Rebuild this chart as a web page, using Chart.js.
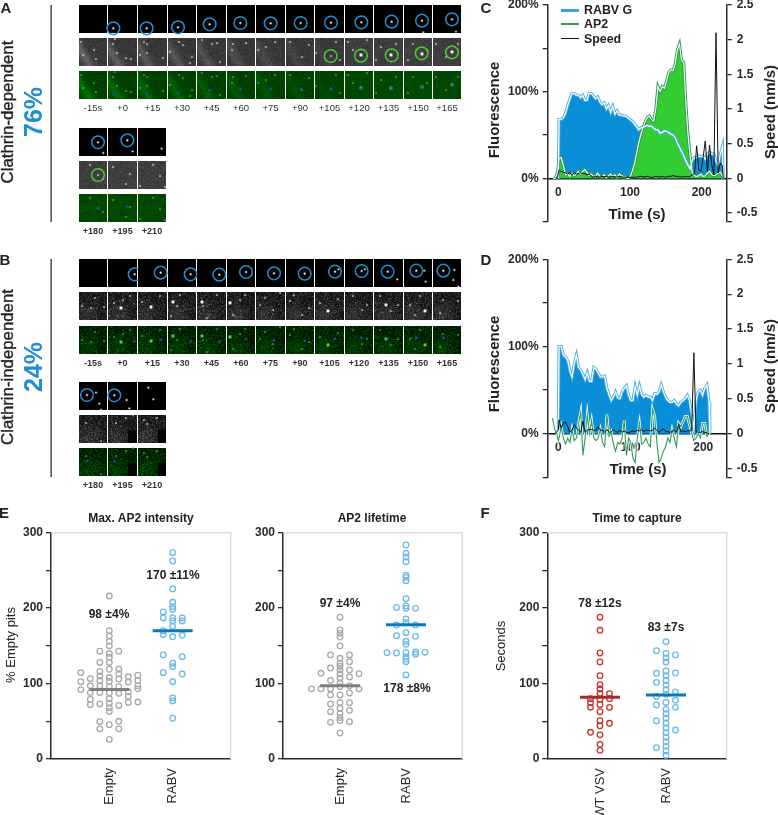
<!DOCTYPE html>
<html lang="en">
<head>
<meta charset="UTF-8" />
<title>RABV entry pathways</title>
<script src="https://cdn.jsdelivr.net/npm/chart.js"></script>
<style>
  html, body { margin: 0; padding: 0; background: #fff; overflow: hidden; }
  #page { position: relative; width: 778px; height: 815px; overflow: hidden; font-family: "Liberation Sans", Arial, sans-serif; color: #222; }
  #page canvas { position: absolute; }
  .t { position: absolute; transform: translate(-50%, -50%); white-space: nowrap; line-height: 1; }
  .key { position: absolute; left: 561px; width: 18px; }
</style>
</head>
<body>
<div id="page">
  <canvas id="micro" width="470" height="500" style="left:0;top:0"></canvas>
  <canvas id="chartC" width="308" height="250" style="left:470px;top:-10px"></canvas>
  <canvas id="chartD" width="308" height="250" style="left:470px;top:240px"></canvas>
  <canvas id="chartE1" width="245" height="320" style="left:0;top:510px"></canvas>
  <canvas id="chartE2" width="245" height="320" style="left:240px;top:510px"></canvas>
  <canvas id="chartF" width="298" height="320" style="left:480px;top:510px"></canvas>
  <div class="key" style="top:9px;height:3px;background:#3aa3d8"></div>
  <div class="key" style="top:23px;height:2px;background:#2e9b55"></div>
  <div class="key" style="top:38px;height:1px;background:#111"></div>
</div>

<script>
// ------------------ panel C ------------------
const timeC = [-7,-4,-1,0,
  1,4,7,10,13,16,19,22,25,28,
  31,34,37,40,43,46,49,52,55,58,
  61,64,67,70,73,76,79,82,85,88,
  91,94,97,100,103,106,109,112,115,118,
  121,124,127,130,133,136,139,142,145,148,
  151,154,157,160,163,166,169,172,175,178,
  181,184,187,190,193,196,199,202,205,208,
  211,214,217,220,223,226,229,230];
const rabvC = [null,null,null,0,
  68,68,70,75,84,91,98,98,96,96,
  93,96,90,90,98,98,95,92,94,88,
  85,87,80,84,76,83,74,78,73,73,
  72,72,70,68,66,63,60,56,58,59,
  60,61,60,60,58,56,56,52,53,55,
  54,53,51,50,47,41,36,31,26,20,
  15,11,22,24,24,26,25,26,22,28,
  30,28,28,20,15,28,37,0];
const ap2C = [0,0,8,15,
  23,24,15,4,5,2,6,3,5,8,
  5,8,10,7,3,5,2,3,6,2,
  2,4,1,3,5,2,4,1,5,3,
  2,1,0,1,8,16,28,40,50,58,
  65,70,72,68,66,80,106,100,106,104,
  112,122,125,124,132,148,155,136,134,85,
  50,25,6,3,2,3,5,2,3,6,
  8,4,3,4,6,7,3,0];
const speedC = [null,0,0.02,0.06,
  0.12,0.1,0.09,0.08,0.06,0.09,0.05,0.08,0.06,0.07,
  0.08,0.07,0.07,0.05,0.06,0.03,0.02,0.03,0.02,0.02,
  0.03,0.02,0.03,0.02,0.02,0.03,0.02,0.02,0.03,0.02,
  0.02,0.01,0.02,0.01,0.02,0.01,0.02,0.02,0.03,0.02,
  0.02,0.03,0.02,0.01,0.02,0.03,0.02,0.02,0.03,0.02,
  0.02,0.03,0.03,0.04,0.03,0.03,0.02,0.02,0.02,0.03,
  0.02,0.03,0.05,0.07,0.47,0.12,0.1,0.3,0.54,0.1,
  0.48,0.2,0.05,2.1,0.08,0.22,0.18,0];

// ------------------ panel D ------------------
const timeD = [-8,-5,-2,0,
  1,4,7,10,13,16,19,22,25,28,
  31,34,37,40,43,46,49,52,55,58,
  61,64,67,70,73,76,79,82,85,88,
  91,94,97,100,103,106,109,112,115,118,
  121,124,127,130,133,136,139,142,145,148,
  151,154,157,160,163,166,169,172,175,178,
  181,184,187,190,193,196,199,202,205,208,209];
const rabvD = [null,null,null,0,
  100,100,90,88,84,72,65,80,90,76,
  73,68,62,70,60,60,76,74,70,65,
  65,66,52,45,38,42,48,41,40,48,
  52,55,44,38,38,54,44,55,45,42,
  44,42,42,38,46,45,48,56,48,42,
  38,36,36,38,34,32,36,38,40,44,
  38,22,6,38,48,50,44,52,56,36,0];
const ap2D = [18,5,0,-8,
  -5,8,-5,-12,-5,-10,5,-8,-5,12,
  25,-25,-5,22,0,15,-5,-8,-5,5,
  -10,-15,22,-3,2,-12,-20,-10,-12,-5,
  15,-25,-5,-10,-28,-33,-5,12,-12,-10,
  -5,-12,-15,28,20,-10,-33,-28,-20,-15,
  -5,-10,5,-5,-15,12,8,14,20,20,
  10,0,-8,-5,0,-5,12,12,-3,0,0];
const speedD = [0,0,0.03,0.05,
  0.2,0.08,0.15,0.17,0.1,0.02,0.05,0.13,0.08,0.05,
  0.02,0.18,0.02,0.05,0.06,0.06,0.05,0.04,0.1,0.05,
  0.05,0.02,0.06,0.02,0.03,0.06,0.03,0.02,0.05,0.02,
  0.04,0.02,0.01,0.03,0.04,0.03,0.05,0.04,0.06,0.03,
  0.05,0.05,0.04,0.05,0.08,0.05,0.02,0.05,0.07,0.03,
  0.03,0.02,0.03,0.05,0.02,0.13,0.03,0.04,0.03,0.04,
  0.04,0.05,1.16,0.03,0.02,0.02,0.03,0.02,0.01,0,0];

const timeTicks = [0,100,200];
const pctTicks = [200,150,100,50,0,-50];
const speedTicks = [2.5,2,1.5,1,0.5,0,-0.5,-0.625];

// ------------------ panels E, F: swarm columns, -3..3 is the column beside the group centre ------------------
const emptyMaxVals = [216,170,163,156,150,140,135,128,119,108,103,96,87.5,80,74,68,63,45.5,26,
  143,128,116,110,104,97,88,73,49.5,40,
  143,119,113,106,96,87,71,50,40,
  106.5,97,88,79,72,
  109,102,89,83,75,
  114.5,102.5,92,
  111,104,97,93,75.5];
const emptyMaxCols = [0,0,0,0,0,0,0,0,0,0,0,0,0,0,0,0,0,0,0,
  -1,-1,-1,-1,-1,-1,-1,-1,-1,-1,
  1,1,1,1,1,1,1,1,1,
  -2,-2,-2,-2,-2,
  2,2,2,2,2,
  -3,-3,-3,
  3,3,3,3,3];
const rabvMaxVals = [273.5,262.5,225.5,207.7,202,198.5,187,183,176,162,127,122.4,102.5,81,77,54,
  195,187,170,165,138,114.5,
  187,183,164,135.7,112.7];
const rabvMaxCols = [0,0,0,0,0,0,0,0,0,0,0,0,0,0,0,0,
  -1,-1,-1,-1,-1,-1,
  1,1,1,1,1];
const emptyLifeVals = [188,171,166.6,161.7,150,133.5,127,123,118,112.7,107,101,96,85,75,67,60.5,55,51,34.5,
  138,120.6,104,93,85,73,62.7,48.6,
  138,129,118,108.7,97,87.5,74.7,64.5,49.5,
  113.6,93,
  113,93,
  93];
const emptyLifeCols = [0,0,0,0,0,0,0,0,0,0,0,0,0,0,0,0,0,0,0,0,
  -1,-1,-1,-1,-1,-1,-1,-1,
  1,1,1,1,1,1,1,1,1,
  -2,-2,
  2,2,
  -3];
const rabvLifeVals = [283.7,272.6,267.8,261.6,243.5,240.8,236.4,212.5,202.8,199.7,185.6,180.7,167.5,156,152,141,135.7,132.6,129,111.4,
  201,177.6,163.5,140.5,
  199.7,177.6,162.6,141.8,138.8,
  141,
  141.4];
const rabvLifeCols = [0,0,0,0,0,0,0,0,0,0,0,0,0,0,0,0,0,0,0,0,
  -1,-1,-1,-1,
  1,1,1,1,1,
  -2,
  2];
const vsvCapVals = [188,170.6,140.5,128.6,110.5,98.5,92.8,87,79,72,62.7,50.8,44,32,19.4,11.5,
  80,74.7,68.5,35.4,
  86.6,80,68.5,47.3];
const vsvCapCols = [0,0,0,0,0,0,0,0,0,0,0,0,0,0,0,0,
  -1,-1,-1,-1,
  1,1,1,1];
const rabvCapVals = [155.5,140,134,128.6,116.7,110.5,104,98,92,85.7,75,65.8,60,54,47.7,41,35,28.7,23,16.8,10.6,4.9,
  143.6,113.6,101.6,83,71.6,50.4,15,
  137.9,114,89,77.8,68.5,38.4];
const rabvCapCols = [0,0,0,0,0,0,0,0,0,0,0,0,0,0,0,0,0,0,0,0,0,0,
  -1,-1,-1,-1,-1,-1,-1,
  1,1,1,1,1,1];
const means = { emptyMax: 92, rabvMax: 170, emptyLife: 97, rabvLife: 178, vsvCap: 82, rabvCap: 85 };
const valueTicks = [300,250,200,150,100,50,0];

// ------------------ micrograph panels A, B (image content, not chart data) ------------------
const frameLabels = ['-15s','+0','+15','+30','+45','+60','+75','+90','+105','+120','+135','+150','+165'];
const frameLabels2 = ['+180','+195','+210'];
const edges = [79,108,138,168,197,227,256,286,315,345,374,404,433,462];
const edges2 = [79,108,138,167];
// circle centres, in 3x zoomed page units
const virusA = [null,[340,85],[440,85],[534,82],[629,73],[721,69],[812,70],[902,69],[993,68],[1084,67],[1175,65],[1266,62],[1356,58],[294,427],[382,421],null];
const pitA = [null,null,null,null,null,null,null,null,[992,168],[1083,167],[1175,166],[1265,160],[1356,157],[294,525],null,null];
const virusB = [null,[404,73],[482,68],[572,73],[658,74],[738,66],[822,70],[914,71],[1005,65],[1085,63],[1163,65],[1249,62],[1330,62],[261,435],[343,436],null];
const extraA = [[1270,97],[1368,95],[310,459],[398,454],[485,446]];
const extraB = [[1015,58],[1095,58],[1192,88],[1277,95],[1273,62],[1360,90],[1375,110],[1363,60],[298,461],[303,480],[288,428],[380,450],[388,475],[445,413],[460,448]];
const spotsA = [
  [[4,17],[15,12],[17,21],[2,4]],[[5,6],[9,15],[18,20],[23,21],[7,1]],[[6,4],[9,6],[9,15],[25,20],[2,17]],
  [[2,14],[11,4],[15,7],[24,19],[22,25]],[[15,6],[20,5],[23,24],[5,2]],[[19,5],[5,12],[6,6]],[[19,4],[10,9],[2,12]],
  [[4,4],[16,19],[23,7]],[[1,15],[21,4],[16,18],[25,22]],[[22,2],[16,17,1],[8,12],[3,4]],[[7,9],[17,17,1],[2,22],[22,6]],
  [[4,22],[18,16,1],[9,6],[23,12]],[[19,14,1],[3,6],[13,19],[25,6]],[[19,14],[11,4],[24,18]],[[22,13],[5,6],[18,23]],[[22,15],[2,25],[15,4],[27,26]]
];
const spotsB = [
  [[3,14],[12,16],[16,6],[25,15]],[[6,11],[13,16,1],[15,8],[22,4]],[[13,15,1],[4,10],[22,4]],
  [[5,10,1],[3,24],[12,3],[9,14]],[[5,10,1],[6,14],[20,3],[10,26]],[[3,11,1],[13,8],[18,3],[6,23]],[[9,6],[4,13],[17,18],[24,1]],
  [[4,9],[23,16],[16,23],[8,3]],[[13,19,1],[5,11],[23,7]],[[22,13],[8,4],[17,18]],[[12,13,1],[24,13],[6,4],[17,19]],
  [[21,19,1],[6,13],[16,4],[11,23]],[[25,9],[10,8],[7,21]],[[22,26],[7,8]],[[18,3],[8,8],[25,0]],[[9,9],[6,5],[19,3]]
];

// ------------------ text ------------------
const page = document.getElementById('page');
function txt(str, x, y, css, rot) {
  const d = document.createElement('div');
  d.className = 't';
  d.textContent = str;
  d.style.cssText = 'left:' + x + 'px;top:' + y + 'px;' + (css || '') + (rot ? 'transform:translate(-50%,-50%) rotate(-90deg);' : '');
  page.appendChild(d);
}
const panelCss = 'font:bold 15px "Liberation Sans";';
[['A',6,7],['B',5,259],['C',486,7],['D',486,259],['E',4,512],['F',485,512]].forEach(p => txt(p[0], p[1], p[2], panelCss));

const sideHeadCss = 'font:16.8px "Liberation Sans";-webkit-text-stroke:0.35px #222;';
txt('Clathrin-dependent', 8, 112, sideHeadCss, true);
txt('76%', 33, 112, 'font:bold 25px "Liberation Sans";color:#1f8fcf;', true);
txt('Clathrin-independent', 8, 367, sideHeadCss, true);
txt('24%', 33, 367, 'font:bold 25px "Liberation Sans";color:#1f8fcf;', true);

const axisCss = 'font:bold 15px "Liberation Sans";';
txt('Fluorescence', 493, 110, axisCss, true);
txt('Speed (nm/s)', 769, 112, axisCss, true);
txt('Time (s)', 637, 213, axisCss);
txt('Fluorescence', 493, 364, axisCss, true);
txt('Speed (nm/s)', 769, 366, axisCss, true);
txt('Time (s)', 638, 468, axisCss);
const keyCss = 'font:bold 12.4px "Liberation Sans";transform:translate(0,-50%);';
txt('RABV G', 584, 10, keyCss);
txt('AP2', 584, 24, keyCss);
txt('Speed', 584, 38.5, keyCss);

const titleCss = 'font:bold 12px "Liberation Sans";';
txt('Max. AP2 intensity', 141, 518, titleCss);
txt('AP2 lifetime', 372, 518, titleCss);
txt('Time to capture', 637, 518, titleCss);
const sideCss = 'font:13px "Liberation Sans";';
txt('% Empty pits', 9.5, 645, sideCss, true);
txt('Seconds', 500, 646, sideCss, true);
const noteCss = 'font:bold 12px "Liberation Sans";';
txt('98 ±4%', 109, 614, noteCss);
txt('170 ±11%', 173, 575, noteCss);
txt('97 ±4%', 340, 603, noteCss);
txt('178 ±8%', 407, 688, noteCss);
txt('78 ±12s', 600, 603, noteCss);
txt('83 ±7s', 666, 627, noteCss);

// ------------------ micrographs ------------------
function grain(x, y, s) {
  const v = Math.sin(x * 12.9898 + y * 78.233 + s * 37.719) * 43758.5453;
  return v - Math.floor(v);
}
function spot(g, x, y, r, col) {
  g.fillStyle = col;
  g.globalAlpha = 0.35;
  g.beginPath(); g.arc(x, y, r + 0.7, 0, 7); g.fill();
  g.globalAlpha = 1;
  g.beginPath(); g.arc(x, y, r, 0, 7); g.fill();
}
function ring(g, p, col) {
  g.strokeStyle = col;
  g.lineWidth = 1.5;
  g.beginPath(); g.arc(p[0] / 3, p[1] / 3, 6.3, 0, 7); g.stroke();
}
function tile(g, x0, y0, w, h, n, kind, panel) {
  for (let y = 0; y < h; y++) {
    for (let x = 0; x < w; x++) {
      let v;
      if (panel === 'A') {
        const d = x - y * 0.6 + 6 - n * 0.4;
        v = 46 + 20 * grain(x, y, n) + (n < 9 ? 42 * Math.exp(-d * d / 30) * (1 - n / 10) : 6);
      } else {
        v = 12 + 70 * grain(x, y, n) * grain(y, x, n + 3) + 24 * Math.exp(-((x - 8) * (x - 8) + (y - 22) * (y - 22)) / 120);
        if (n >= 14 && x > 19 && y > 14) v = 6;
      }
      v = Math.round(v);
      g.fillStyle = kind === 'gray' ? 'rgb(' + v + ',' + v + ',' + v + ')' : 'rgb(0,' + Math.round(v * 1.15) + ',0)';
      g.fillRect(x0 + x, y0 + y, 1, 1);
    }
  }
}
function block(g, panel, spots, virus, pits, extra, rows, rows2) {
  const place = (es, ys, from) => {
    for (let i = 0; i < es.length - 1; i++) {
      const n = from + i, x0 = es[i], w = es[i + 1] - es[i] - 1;
      g.fillStyle = '#000';
      g.fillRect(x0, ys[0], w, 28);
      tile(g, x0, ys[1], w, 28, n, 'gray', panel);
      tile(g, x0, ys[2], w, 28, n, 'green', panel);
      spots[n].forEach(s => {
        spot(g, x0 + s[0], ys[1] + s[1], s[2] ? 1.4 : 0.6, '#eee');
        spot(g, x0 + s[0], ys[2] + s[1], s[2] ? 1.4 : 0.6, '#45d845');
      });
      const p = virus[n];
      if (p) {
        spot(g, p[0] / 3, p[1] / 3, 0.8, '#fff');
        spot(g, p[0] / 3, p[1] / 3 + ys[2] - ys[0], 1, '#1c4fd0');
        ring(g, p, '#1f8fcf');
      }
      if (pits && pits[n]) ring(g, pits[n], '#4ccb2c');
    }
  };
  place(edges, rows, 0);
  place(edges2, rows2, 13);
  extra.forEach(e => spot(g, e[0] / 3, e[1] / 3, 0.7, '#fff'));
}
const microCtx = document.getElementById('micro').getContext('2d');
// A and B circle lists are in page-relative units, B offset by 250px
block(microCtx, 'A', spotsA, virusA, pitA, extraA, [5,38,71], [128,161,194]);
microCtx.save();
microCtx.translate(0, 250);
block(microCtx, 'B', spotsB, virusB, null, extraB, [9,42,76], [132,165,198]);
microCtx.restore();
microCtx.fillStyle = '#333';
microCtx.fillRect(50.5, 5, 1.3, 217);
microCtx.fillRect(50.5, 259, 1.3, 218);

frameLabels.forEach((s, i) => {
  const cx = (edges[i] + edges[i + 1]) / 2 - 0.5;
  txt(s, cx, 107, 'font:9.5px "Liberation Sans";color:#333;');
  txt(s, cx, 362.5, 'font:bold 9px "Liberation Sans";color:#333;');
});
frameLabels2.forEach((s, i) => {
  const cx = (edges2[i] + edges2[i + 1]) / 2 - 0.5;
  txt(s, cx, 231, 'font:bold 9px "Liberation Sans";color:#333;');
  txt(s, cx, 485, 'font:bold 9px "Liberation Sans";color:#333;');
});

// ------------------ charts ------------------
const tickFont = { family: '"Liberation Sans"', size: 12, weight: 'bold' };
const ink = '#2a2a2a';
const pts = (xs, ys) => xs.map((x, i) => ({ x: x, y: ys[i] }));

function traceChart(id, time, rabv, ap2, speed, xMin, xMax, padTop, padBottom, filled) {
  const base = { pointRadius: 0, tension: 0, spanGaps: false };
  const rabvPts = pts(time, rabv), ap2Pts = pts(time, ap2), speedPts = pts(time, speed);
  const sets = [
    { ...base, data: rabvPts, borderWidth: 0, backgroundColor: '#0b8ed8', fill: 'origin', order: 9 },
    { ...base, data: rabvPts, borderWidth: 3, borderColor: '#4aaede', fill: false, order: 7 },
    { ...base, data: rabvPts, borderWidth: 1.2, borderColor: '#fff', fill: false, order: 3 },
    { ...base, data: speedPts, yAxisID: 'y2', borderWidth: 1, borderColor: '#111', fill: false, order: 1 }
  ];
  if (filled) {
    sets.push({ ...base, data: ap2Pts, borderWidth: 0, backgroundColor: '#33cc33', fill: 'origin', order: 8 });
    sets.push({ ...base, data: ap2Pts, borderWidth: 3, borderColor: '#2e9b55', fill: false, order: 6 });
    sets.push({ ...base, data: ap2Pts, borderWidth: 1.1, borderColor: '#fff', fill: false, order: 5 });
  } else {
    sets.push({ ...base, data: ap2Pts, borderWidth: 2.6, borderColor: '#fff', fill: false, order: 6 });
    sets.push({ ...base, data: ap2Pts, borderWidth: 1.1, borderColor: '#2e9b55', fill: false, order: 2 });
  }
  return new Chart(document.getElementById(id), {
    type: 'line',
    data: { datasets: sets },
    options: {
      responsive: false,
      animation: false,
      layout: { padding: { top: padTop, bottom: padBottom, left: 0, right: 0 } },
      plugins: { legend: { display: false }, tooltip: { enabled: false } },
      scales: {
        x: {
          type: 'linear', min: xMin, max: xMax, position: { y: 0 }, z: 2,
          afterBuildTicks: s => { s.ticks = timeTicks.map(v => ({ value: v })); },
          ticks: { font: tickFont, color: ink, padding: 7, maxRotation: 0, autoSkip: false },
          grid: { display: true, drawOnChartArea: false, drawTicks: false },
          border: { color: '#111', width: 1.5 }
        },
        y: {
          min: -50, max: 200,
          afterBuildTicks: s => { s.ticks = pctTicks.map(v => ({ value: v })); },
          afterFit: s => { s.width = 77.7; },
          ticks: { font: tickFont, color: ink, padding: 4, autoSkip: false, callback: v => (v >= 0 && v % 100 === 0 ? v + '%' : '') },
          grid: { display: true, drawOnChartArea: false, tickLength: 5, color: ink, lineWidth: 1.3 },
          border: { color: ink, width: 1.5 }
        },
        y2: {
          position: 'right', min: -0.625, max: 2.5,
          afterBuildTicks: s => { s.ticks = speedTicks.map(v => ({ value: v })); },
          afterFit: s => { s.width = 51.3; },
          ticks: { font: tickFont, color: ink, padding: 5, autoSkip: false, callback: v => (v === -0.625 ? '' : String(v)) },
          grid: { display: true, drawOnChartArea: false, tickLength: 5, color: ink, lineWidth: 1.3 },
          border: { color: ink, width: 1.5 }
        }
      }
    }
  });
}
traceChart('chartC', timeC, rabvC, ap2C, speedC, -14.8, 234.9, 15, 18.3, true);
traceChart('chartD', timeD, rabvD, ap2D, speedD, -14.6, 232.3, 19.3, 12.7, false);

const frameLines = {
  id: 'frameLines',
  beforeDatasetsDraw(chart) {
    const a = chart.chartArea, g = chart.ctx;
    g.save();
    g.strokeStyle = '#dcdcdc';
    g.lineWidth = 1.5;
    g.beginPath();
    g.moveTo(a.left, a.top); g.lineTo(a.right, a.top); g.lineTo(a.right, a.bottom);
    g.stroke();
    g.restore();
  }
};

function swarmChart(id, opt) {
  const step = 9.5 / opt.unit;
  const swarm = (center, vals, cols, col) => ({
    type: 'scatter',
    data: vals.map((v, i) => ({ x: center + cols[i] * step, y: v })),
    pointRadius: 2.8, pointBorderWidth: 1.3,
    pointBorderColor: col, pointBackgroundColor: 'rgba(0,0,0,0)', order: 3
  });
  const meanLine = (center, m, col) => ({
    type: 'line',
    data: [{ x: center - 20 / opt.unit, y: m }, { x: center + 20 / opt.unit, y: m }],
    borderColor: col, borderWidth: 3, pointRadius: 0, order: 1
  });
  return new Chart(document.getElementById(id), {
    data: { datasets: [
      swarm(1, opt.a.vals, opt.a.cols, opt.a.col),
      swarm(2, opt.b.vals, opt.b.cols, opt.b.col),
      meanLine(1, opt.a.mean, opt.a.meanCol),
      meanLine(2, opt.b.mean, opt.b.meanCol)
    ] },
    plugins: [frameLines],
    options: {
      responsive: false,
      animation: false,
      layout: { padding: { top: 22.7, right: opt.padRight, left: 0, bottom: 0 } },
      plugins: { legend: { display: false }, tooltip: { enabled: false } },
      scales: {
        x: {
          type: 'linear', min: opt.xMin, max: opt.xMax,
          afterBuildTicks: s => { s.ticks = [1, 2].map(v => ({ value: v })); },
          afterFit: s => { s.height = 71; },
          ticks: {
            font: { family: '"Liberation Sans"', size: 13 }, color: ink, minRotation: 90, maxRotation: 90,
            autoSkip: false, padding: 9, callback: v => opt.names[v - 1]
          },
          grid: { display: true, drawOnChartArea: false, drawTicks: false },
          border: { color: ink, width: 1.5 }
        },
        y: {
          min: 0, max: 300,
          afterBuildTicks: s => { s.ticks = valueTicks.map(v => ({ value: v })); },
          afterFit: s => { s.width = opt.axisWidth; },
          ticks: { font: tickFont, color: ink, padding: 3, autoSkip: false, callback: v => (v % 100 === 0 ? String(v) : '') },
          grid: { display: true, drawOnChartArea: false, tickLength: 5, color: ink, lineWidth: 1.3 },
          border: { color: ink, width: 1.5 }
        }
      }
    }
  });
}
const greyDot = '#a9a9a9', blueDot = '#6bbbe8', redDot = '#c2362f';
swarmChart('chartE1', {
  unit: 63.4, xMin: 0.08, xMax: 2.915, axisWidth: 51, padRight: 14.3, names: ['Empty', 'RABV'],
  a: { vals: emptyMaxVals, cols: emptyMaxCols, col: greyDot, mean: means.emptyMax, meanCol: '#808080' },
  b: { vals: rabvMaxVals, cols: rabvMaxCols, col: blueDot, mean: means.rabvMax, meanCol: '#0d77bb' }
});
swarmChart('chartE2', {
  unit: 66, xMin: 0.136, xMax: 2.853, axisWidth: 43, padRight: 22.7, names: ['Empty', 'RABV'],
  a: { vals: emptyLifeVals, cols: emptyLifeCols, col: greyDot, mean: means.emptyLife, meanCol: '#808080' },
  b: { vals: rabvLifeVals, cols: rabvLifeCols, col: blueDot, mean: means.rabvLife, meanCol: '#0d77bb' }
});
swarmChart('chartF', {
  unit: 66, xMin: 0.2015, xMax: 2.92, axisWidth: 67.3, padRight: 51.3, names: ['WT VSV', 'RABV'],
  a: { vals: vsvCapVals, cols: vsvCapCols, col: redDot, mean: means.vsvCap, meanCol: '#a92a25' },
  b: { vals: rabvCapVals, cols: rabvCapCols, col: blueDot, mean: means.rabvCap, meanCol: '#0d77bb' }
});
</script>
</body>
</html>
